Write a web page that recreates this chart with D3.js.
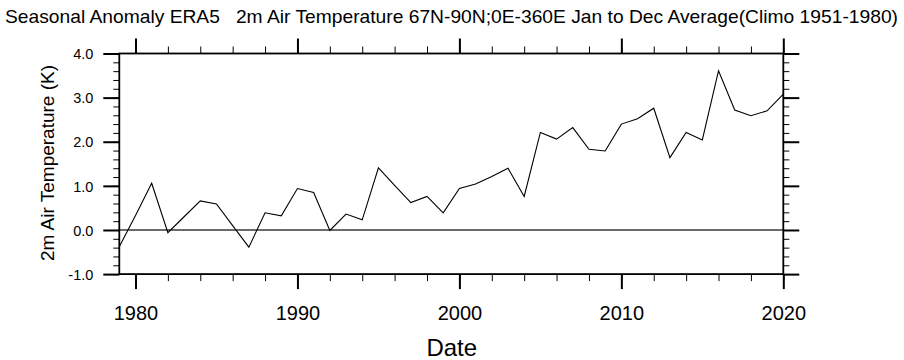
<!DOCTYPE html>
<html><head><meta charset="utf-8">
<script src="https://cdn.jsdelivr.net/npm/d3@7"></script>
<style>
body{margin:0;background:#fff;}
svg{display:block;font-family:"Liberation Sans",Arial,Helvetica,sans-serif;}
</style></head>
<body><svg id="c" width="904" height="360"></svg>
<script>
const years = d3.range(1979, 2021);
const anomaly = [-0.38, 0.33, 1.06, -0.06, 0.30, 0.66, 0.59, 0.10, -0.39, 0.39,
  0.32, 0.94, 0.85, -0.01, 0.36, 0.23, 1.41, 1.01, 0.62, 0.76,
  0.39, 0.94, 1.04, 1.21, 1.40, 0.76, 2.21, 2.06, 2.32, 1.83,
  1.79, 2.40, 2.52, 2.76, 1.64, 2.21, 2.04, 3.61, 2.72, 2.59,
  2.70, 3.08];
const xMajor = [1980, 1990, 2000, 2010, 2020];
const xMinor = d3.range(1980, 2021, 2);
const yMajor = [-1, 0, 1, 2, 3, 4];
const yMinor = d3.range(-1, 4.01, 0.2).map(v => +v.toFixed(1));
const titleText = "Seasonal Anomaly ERA5   2m Air Temperature 67N-90N;0E-360E Jan to Dec Average(Climo 1951-1980)";
const yTitle = "2m Air Temperature (K)";
const xTitle = "Date";

const svg = d3.select("#c");
const L = 119.3, R = 783.3, T = 53.5, B = 274.1;
const x = d3.scaleLinear().domain([1979, 2020]).range([L, R]);
const y = d3.scaleLinear().domain([-1, 4]).range([B, T]);

// title
svg.append("text").attr("x", 5).attr("y", 23).attr("font-size", 19)
  .style("white-space", "pre").attr("xml:space", "preserve")
  .attr("textLength", 893).attr("lengthAdjust", "spacingAndGlyphs")
  .text(titleText);

// zero line
svg.append("line").attr("x1", L).attr("x2", R).attr("y1", y(0)).attr("y2", y(0))
  .attr("stroke", "#6b6b6b").attr("stroke-width", 2);

// data line
svg.append("path").datum(years.map((yr, i) => [yr, anomaly[i]]))
  .attr("fill", "none").attr("stroke", "#000").attr("stroke-width", 1.1)
  .attr("stroke-linejoin", "miter")
  .attr("d", d3.line().x(d => x(d[0])).y(d => y(d[1])));

function styleAxis(g, sw) {
  g.select(".domain").remove();
  g.selectAll(".tick line").attr("stroke", "#000").attr("stroke-width", sw);
}
const fmtY = v => d3.format(".1f")(v).replace("\u2212", "-");
// bottom
svg.append("g").attr("transform", `translate(0,${B})`)
  .call(d3.axisBottom(x).tickValues(xMinor).tickSize(7).tickFormat(""))
  .call(g => styleAxis(g, 1));
const bx = svg.append("g").attr("transform", `translate(0,${B})`)
  .call(d3.axisBottom(x).tickValues(xMajor).tickSize(15).tickFormat(d3.format("d")))
  .call(g => styleAxis(g, 2));
bx.selectAll(".tick text").attr("y", 45.5).attr("dy", 0).attr("font-size", 20)
  .attr("fill", "#000").attr("font-family", "Liberation Sans, Arial, sans-serif");
// top
svg.append("g").attr("transform", `translate(0,${T})`)
  .call(d3.axisTop(x).tickValues(xMinor).tickSize(7).tickFormat(""))
  .call(g => styleAxis(g, 1));
svg.append("g").attr("transform", `translate(0,${T})`)
  .call(d3.axisTop(x).tickValues(xMajor).tickSize(15).tickFormat(""))
  .call(g => styleAxis(g, 2));
// left
svg.append("g").attr("transform", `translate(${L},0)`)
  .call(d3.axisLeft(y).tickValues(yMinor).tickSize(6).tickFormat(""))
  .call(g => styleAxis(g, 1));
const ly = svg.append("g").attr("transform", `translate(${L},0)`)
  .call(d3.axisLeft(y).tickValues(yMajor).tickSize(16).tickFormat(fmtY))
  .call(g => styleAxis(g, 2));
ly.selectAll(".tick text").attr("x", -26).attr("dy", "0.36em").attr("font-size", 14.5)
  .attr("fill", "#000").attr("font-family", "Liberation Sans, Arial, sans-serif");
// right
svg.append("g").attr("transform", `translate(${R},0)`)
  .call(d3.axisRight(y).tickValues(yMinor).tickSize(6).tickFormat(""))
  .call(g => styleAxis(g, 1));
svg.append("g").attr("transform", `translate(${R},0)`)
  .call(d3.axisRight(y).tickValues(yMajor).tickSize(16).tickFormat(""))
  .call(g => styleAxis(g, 2));

// frame
svg.append("rect").attr("x", L).attr("y", T).attr("width", R - L).attr("height", B - T)
  .attr("fill", "none").attr("stroke", "#000").attr("stroke-width", 1.8);

// axis titles
svg.append("text").attr("x", (L + R) / 2 + 0.5).attr("y", 356).attr("text-anchor", "middle")
  .attr("font-size", 24).text(xTitle);
svg.append("text").attr("transform", `translate(54,163) rotate(-90)`)
  .attr("text-anchor", "middle").attr("font-size", 19).text(yTitle);
</script></body></html>
